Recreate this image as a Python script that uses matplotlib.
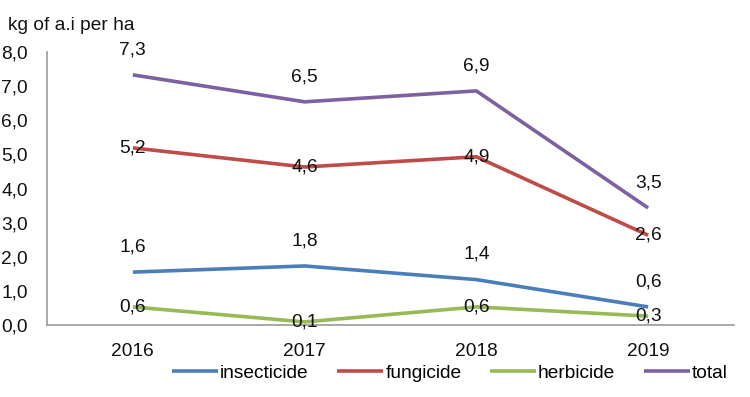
import matplotlib
matplotlib.use("Agg")
import matplotlib.pyplot as plt

plt.rcParams['font.family'] = ['Liberation Sans', 'DejaVu Sans']

years = ["2016", "2017", "2018", "2019"]
insecticide = [1.55, 1.73, 1.33, 0.53]
fungicide = [5.19, 4.63, 4.93, 2.63]
herbicide = [0.53, 0.09, 0.53, 0.26]
total = [7.33, 6.54, 6.86, 3.43]
insecticide_labels = ["1,6", "1,8", "1,4", "0,6"]
fungicide_labels = ["5,2", "4,6", "4,9", "2,6"]
herbicide_labels = ["0,6", "0,1", "0,6", "0,3"]
total_labels = ["7,3", "6,5", "6,9", "3,5"]
yticks = [0, 1, 2, 3, 4, 5, 6, 7, 8]

colors = {"insecticide": "#4A7EBB", "fungicide": "#BE4B48",
          "herbicide": "#98B954", "total": "#7D60A0"}

FS = 13.8

fig = plt.figure(figsize=(7.5, 3.97), dpi=100)
ax = fig.add_axes([47/750, 72/397, 687/750, 273/397])

x = list(range(len(years)))
series = [("insecticide", insecticide, insecticide_labels, "above"),
          ("fungicide", fungicide, fungicide_labels, "center"),
          ("herbicide", herbicide, herbicide_labels, "center"),
          ("total", total, total_labels, "above")]

for name, vals, labs, pos in series:
    ax.plot(x, vals, color=colors[name], lw=2.6, label=name,
            solid_capstyle="butt", solid_joinstyle="round")
    for xi, v, lab in zip(x, vals, labs):
        if pos == "above":
            ax.annotate(lab, (xi, v), xytext=(0, 12), textcoords="offset points",
                        ha="center", va="bottom", fontsize=FS, color="#111111")
        else:
            ax.annotate(lab, (xi, v), xytext=(0, 0), textcoords="offset points",
                        ha="center", va="center", fontsize=FS, color="#111111")

ax.set_xlim(-0.5, 3.5)
ax.set_ylim(0, 8)
ax.set_yticks(yticks)
ax.set_yticklabels([f"{t},0" for t in yticks])
ax.set_xticks(x)
ax.set_xticklabels(years)
ax.tick_params(axis="both", length=0, labelsize=FS, colors="#111111")
ax.tick_params(axis="y", pad=14)
ax.tick_params(axis="x", pad=13)
for s in ["top", "right"]:
    ax.spines[s].set_visible(False)
for s in ["left", "bottom"]:
    ax.spines[s].set_color("#9a9a9a")
    ax.spines[s].set_linewidth(1.2)

fig.text(8/750, 1 - 25/397, "kg of a.i per ha", fontsize=FS, ha="left", va="center",
         color="#111111")

fig.legend(loc="center", bbox_to_anchor=(450/750, 1 - 373/397), ncol=4, frameon=False,
           fontsize=FS, handlelength=2.4, handletextpad=0.1, columnspacing=1.5)

fig.savefig("out.png", dpi=100)
